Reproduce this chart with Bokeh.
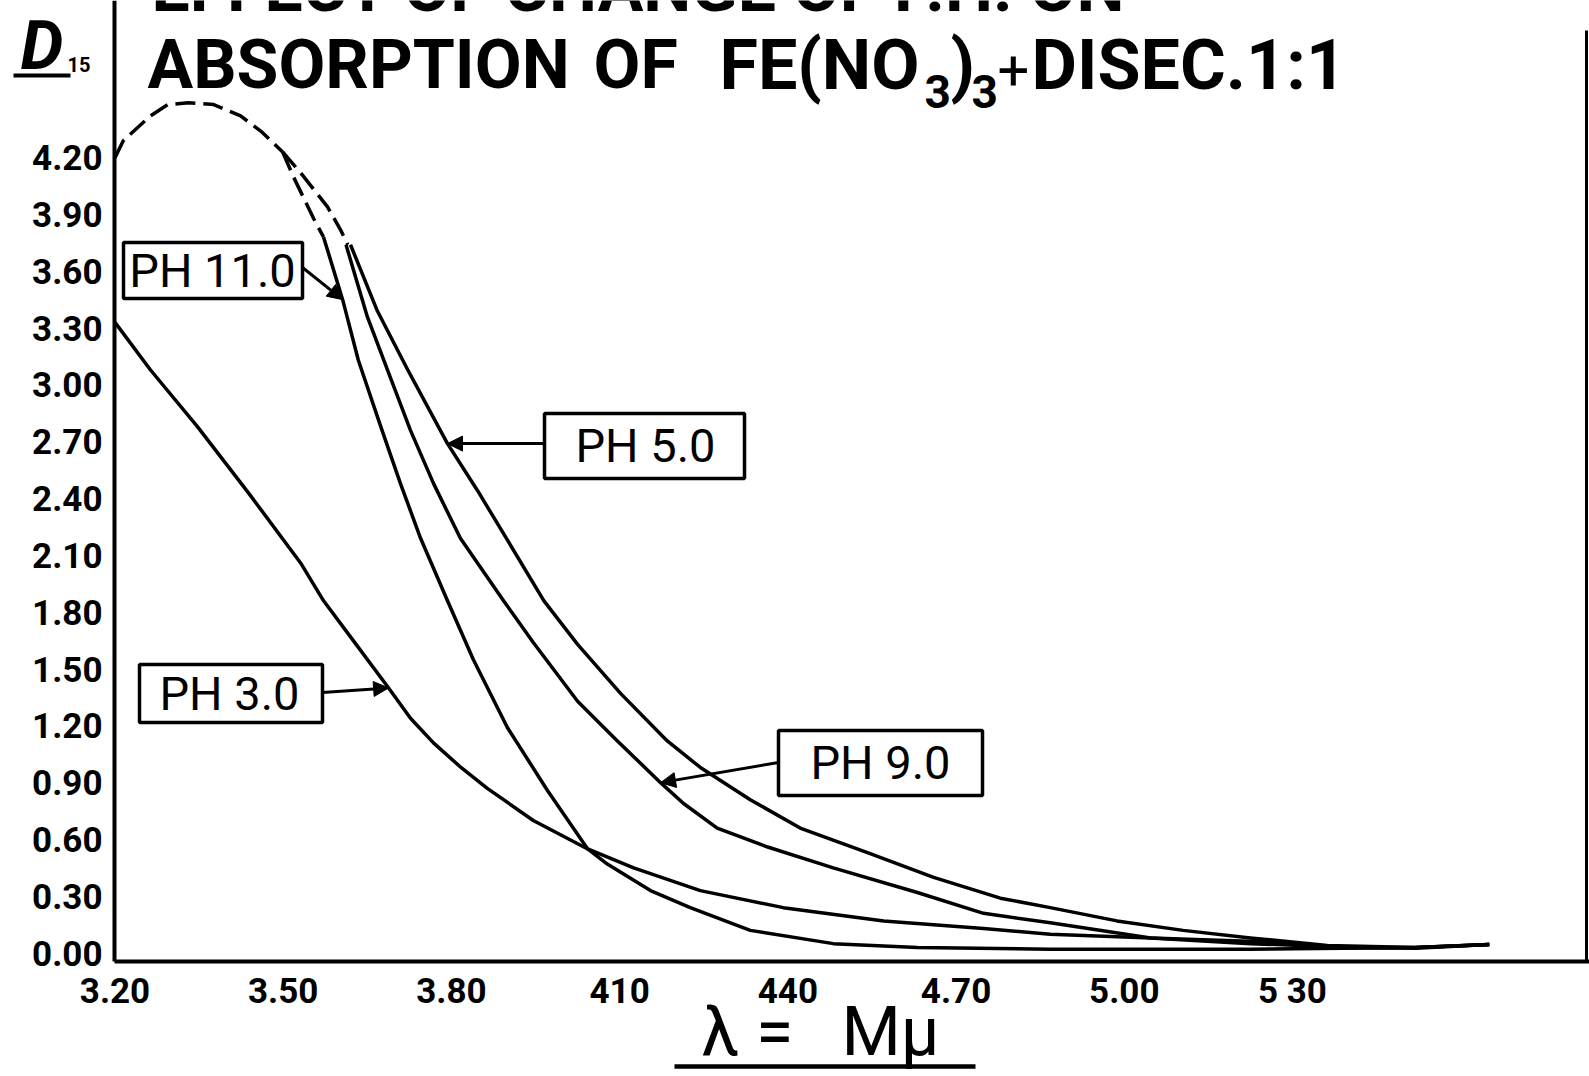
from bokeh.plotting import figure
from bokeh.models import (Label, BoxAnnotation, Arrow, NormalHead, LinearAxis,
                          FixedTicker, Range1d, NumeralTickFormatter)
from bokeh.embed import file_html
from bokeh.resources import INLINE

# ---- absorption curves: wavelength (mμ) against optical density D15 ----
series_names = ["PH 3.0", "PH 5.0", "PH 9.0", "PH 11.0"]

wl_ph3 = [320.0, 326.3, 334.7, 343.8, 353.1, 357.2, 362.5, 368.8, 372.7, 376.8,
          381.7, 386.4, 394.6, 404.3, 412.5, 424.4, 439.2, 457.1, 474.9, 486.8,
          504.7, 524.8, 540.3, 552.0, 565.1]
d_ph3 = [3.33, 3.08, 2.78, 2.43, 2.06, 1.86, 1.65, 1.40, 1.24, 1.11,
         0.98, 0.87, 0.70, 0.55, 0.45, 0.33, 0.24, 0.17, 0.13, 0.10,
         0.08, 0.06, 0.03, 0.03, 0.045]

wl_ph5 = [362.0, 366.8, 372.2, 379.3, 384.7, 390.0, 396.5, 402.5, 410.2, 418.5,
          424.4, 433.3, 442.2, 454.2, 466.0, 477.9, 486.8, 498.7, 510.5, 522.5,
          536.2, 552.0, 565.1]
d_ph5 = [3.74, 3.39, 3.08, 2.69, 2.44, 2.18, 1.86, 1.63, 1.37, 1.12,
         0.98, 0.81, 0.66, 0.53, 0.40, 0.29, 0.24, 0.17, 0.12, 0.08,
         0.04, 0.03, 0.045]

wl_ph9 = [361.2, 365.0, 369.1, 372.7, 376.8, 381.6, 389.3, 394.6, 402.5, 409.6,
          417.3, 421.4, 427.4, 436.4, 448.1, 463.1, 474.9, 486.8, 504.7, 522.5,
          540.3, 552.0, 565.1]
d_ph9 = [3.74, 3.36, 3.04, 2.76, 2.48, 2.19, 1.86, 1.64, 1.33, 1.12,
         0.90, 0.79, 0.66, 0.56, 0.45, 0.32, 0.21, 0.16, 0.08, 0.05,
         0.03, 0.025, 0.045]

wl_ph11 = [357.2, 360.6, 363.4, 367.4, 370.9, 374.5, 379.3, 383.9, 390.0, 397.1,
           404.3, 407.8, 415.5, 422.6, 433.3, 448.1, 463.1, 486.8, 522.5, 552.0,
           565.1]
d_ph11 = [3.78, 3.45, 3.13, 2.78, 2.48, 2.19, 1.86, 1.55, 1.19, 0.86,
          0.55, 0.47, 0.33, 0.24, 0.12, 0.05, 0.03, 0.02, 0.02, 0.03,
          0.045]

# extrapolated (dashed) region above the measured range
wl_peak = [320.0, 321.5, 326.3, 329.4, 333.1, 337.6, 342.4, 346.0, 349.9]
d_peak = [4.20, 4.29, 4.42, 4.48, 4.49, 4.48, 4.42, 4.34, 4.23]
wl_ph11_dash = [349.9, 351.8, 355.4, 357.2]
d_ph11_dash = [4.23, 4.10, 3.88, 3.78]
wl_ph5_9_dash = [349.9, 353.1, 357.9, 360.2, 361.5]
d_ph5_9_dash = [4.23, 4.12, 3.94, 3.82, 3.74]

x_ticks = [320, 350, 380, 410, 440, 470, 500, 530]
x_tick_labels = ["3.20", "3.50", "3.80", "410", "440", "4.70", "5.00", "5 30"]
y_ticks = [0.0, 0.3, 0.6, 0.9, 1.2, 1.5, 1.8, 2.1, 2.4, 2.7, 3.0, 3.3, 3.6, 3.9, 4.2]

# ---- page geometry: the plotting frame fills the whole page ----
W, H = 1589, 1076
PX_PER_NM, PX_AT_320 = 5.607, 114.5      # horizontal scale
PX_PER_UNIT, PY_AT_0 = 189.4, 952.6      # vertical scale
X0 = 320 - PX_AT_320 / PX_PER_NM
X1 = 320 + (W - PX_AT_320) / PX_PER_NM
Y0 = (PY_AT_0 - H) / PX_PER_UNIT
Y1 = PY_AT_0 / PX_PER_UNIT


def page_to_data(px, py):
    """Convert a page pixel position into data units of the plot."""
    return 320 + (px - PX_AT_320) / PX_PER_NM, (PY_AT_0 - py) / PX_PER_UNIT


AXIS_X, AXIS_Y = page_to_data(114, 961)    # where the two axes cross

p = figure(width=W, height=H, x_range=Range1d(X0, X1), y_range=Range1d(Y0, Y1),
           output_backend="svg", toolbar_location=None, min_border=0,
           min_border_left=0, min_border_right=0, min_border_top=0,
           min_border_bottom=0)
p.grid.visible = False
p.outline_line_color = None
p.background_fill_color = "white"
p.border_fill_color = "white"

for ax in (p.xaxis[0], p.yaxis[0]):
    ax.axis_line_width = 4
    ax.axis_line_color = "black"
    ax.major_tick_line_color = None
    ax.minor_tick_line_color = None
    ax.major_label_text_font = "Roboto"
    ax.major_label_text_font_style = "bold"
    ax.major_label_text_font_size = "35px"
    ax.major_label_text_color = "black"

p.xaxis.fixed_location = AXIS_Y
p.xaxis.bounds = (AXIS_X, X1)
p.xaxis.ticker = FixedTicker(ticks=x_ticks)
p.xaxis.major_label_overrides = {t: s for t, s in zip(x_ticks, x_tick_labels)}
p.xaxis.major_label_standoff = 3

p.yaxis.fixed_location = AXIS_X
p.yaxis.bounds = (AXIS_Y, Y1)
p.yaxis.ticker = FixedTicker(ticks=y_ticks)
p.yaxis.formatter = NumeralTickFormatter(format="0.00")
p.yaxis.major_label_standoff = 6

# right-hand border of the sheet
right_edge = LinearAxis(fixed_location=page_to_data(1586, 0)[0],
                        bounds=(AXIS_Y, page_to_data(0, 30)[1]),
                        ticker=FixedTicker(ticks=[]), axis_line_width=3,
                        axis_line_color="black", major_tick_line_color=None,
                        minor_tick_line_color=None,
                        major_label_text_font_size="0px")
p.add_layout(right_edge, "right")

# curves
curve_style = dict(line_color="black", line_width=3.5, line_join="round")
p.line(wl_ph3, d_ph3, **curve_style)
p.line(wl_ph5, d_ph5, **curve_style)
p.line(wl_ph9, d_ph9, **curve_style)
p.line(wl_ph11, d_ph11, **curve_style)

dash_style = dict(line_color="black", line_width=3.5, line_dash="20 8")
p.line(wl_peak, d_peak, **dash_style)
p.line(wl_ph11_dash, d_ph11_dash, **dash_style)
p.line(wl_ph5_9_dash, d_ph5_9_dash, **dash_style)

# boxed curve labels with arrows pointing at their curve
tags = [
    # name, box (l, t, r, b) in page px, text centre, arrow start, target curve, index
    (series_names[3], (123, 242, 302, 298), (212, 270), (302, 267), (wl_ph11, d_ph11), 1),
    (series_names[1], (544, 413, 744, 478), (645, 445), (544, 443), (wl_ph5, d_ph5), 3),
    (series_names[0], (139, 664, 322, 722), (229, 693), (322, 692), (wl_ph3, d_ph3), 7),
    (series_names[2], (778, 730, 982, 795), (880, 762), (778, 762), (wl_ph9, d_ph9), 10),
]
for name, (bl, bt, br, bb), (tx, ty), (ax_, ay_), (xs, ys), idx in tags:
    left, top = page_to_data(bl, bt)
    right, bottom = page_to_data(br, bb)
    p.add_layout(BoxAnnotation(left=left, right=right, top=top, bottom=bottom,
                               fill_color=None, line_color="black",
                               line_alpha=1.0, line_width=3.5))
    cx, cy = page_to_data(tx, ty)
    p.add_layout(Label(x=cx, y=cy, text=name, text_align="center",
                       text_baseline="middle", text_font="Roboto",
                       text_font_size="47px", text_color="black"))
    sx, sy = page_to_data(ax_, ay_)
    p.add_layout(Arrow(end=NormalHead(size=15, fill_color="black", line_color="black"),
                       x_start=sx, y_start=sy, x_end=xs[idx], y_end=ys[idx],
                       line_color="black", line_width=3))


def page_label(text, px, py, size, font="Roboto", style="bold", align="left"):
    x, y = page_to_data(px, py)
    p.add_layout(Label(x=x, y=y, text=text, text_font=font, text_font_style=style,
                       text_font_size=size, text_align=align,
                       text_baseline="middle", text_color="black"))


def page_rule(px0, px1, py, width):
    """Horizontal underline stroke between two page positions."""
    xa, ya = page_to_data(px0, py)
    xb, _ = page_to_data(px1, py)
    p.segment(x0=[xa], y0=[ya], x1=[xb], y1=[ya], line_color="black",
              line_width=width)


# heading lettering (first line runs off the top of the sheet)
page_label("EFFECT OF CHANGE OF P.H. ON", 151, -13, "68px")
page_label("ABSORPTION", 147, 64, "68px")
page_label("OF", 593, 64, "68px")
page_label("FE(NO", 719, 64, "70px")
page_label("3", 924, 91, "46px")
page_label(")", 950, 64, "70px")
page_label("3", 971, 91, "46px")
page_label("+", 997, 69, "56px", style="normal")
page_label("DISEC.1:1", 1031, 64, "70px")

# ordinate title D15 with underline
page_label("D", 20, 45, "68px", style="bold italic")
page_label("15", 67, 64, "20px")
page_rule(13, 70, 75, 4)

# abscissa title with underline
page_label("λ =", 701, 1031, "68px", style="normal")
page_label("Mμ", 841, 1031, "68px", style="normal")
page_rule(674, 975, 1066, 4.5)

open("out.html", "w").write(file_html(p, INLINE))
